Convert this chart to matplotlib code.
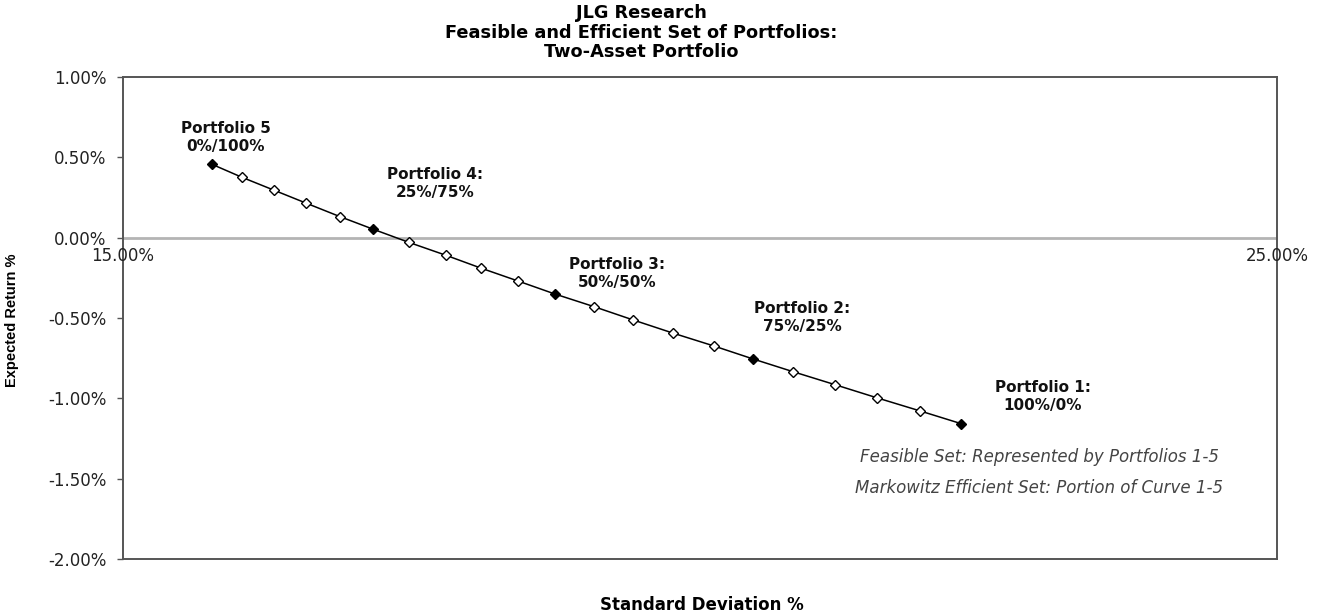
import matplotlib
matplotlib.use("Agg")
import matplotlib.pyplot as plt
from matplotlib.ticker import FuncFormatter

plt.rcParams['font.family'] = ['DejaVu Sans']
plt.rcParams['axes.unicode_minus'] = False

# ---- data ----
std_dev = [15.77, 16.03, 16.31, 16.59, 16.88, 17.17, 17.48, 17.80, 18.10, 18.42, 18.74,
           19.08, 19.42, 19.77, 20.12, 20.46, 20.81, 21.17, 21.53, 21.91, 22.26]
exp_ret = [0.457, 0.376, 0.295, 0.214, 0.131, 0.052, -0.030, -0.110, -0.189, -0.269, -0.350,
           -0.429, -0.512, -0.595, -0.674, -0.755, -0.835, -0.915, -0.996, -1.079, -1.157]
key_idx = [0, 5, 10, 15, 20]
key_names = ["Portfolio 5", "Portfolio 4:", "Portfolio 3:", "Portfolio 2:", "Portfolio 1:"]
key_alloc = ["0%/100%", "25%/75%", "50%/50%", "75%/25%", "100%/0%"]
y_ticks = [1.0, 0.5, 0.0, -0.5, -1.0, -1.5, -2.0]
x_ticks = [15.0, 25.0]
title_lines = ["JLG Research", "Feasible and Efficient Set of Portfolios:", "Two-Asset Portfolio"]
notes = ["Feasible Set: Represented by Portfolios 1-5",
         "Markowitz Efficient Set: Portion of Curve 1-5"]

W, H = 1327, 616
fig = plt.figure(figsize=(W / 100, H / 100), dpi=100)
ax = fig.add_axes([123 / W, (H - 559) / H, (1277 - 123) / W, (559 - 77) / H])

ax.set_xlim(x_ticks[0], x_ticks[-1])
ax.set_ylim(min(y_ticks), max(y_ticks))

# zero line (category axis)
ax.axhline(0, color='#b4b4b4', lw=2.0, zorder=1)

# curve
ax.plot(std_dev, exp_ret, color='black', lw=1.1, zorder=2)
other = [i for i in range(len(std_dev)) if i not in key_idx]
ax.plot([std_dev[i] for i in other], [exp_ret[i] for i in other], linestyle='none',
        marker='D', markersize=5.3, markerfacecolor='white', markeredgecolor='black',
        markeredgewidth=1.0, zorder=3)
ax.plot([std_dev[i] for i in key_idx], [exp_ret[i] for i in key_idx], linestyle='none',
        marker='D', markersize=5.3, markerfacecolor='black', markeredgecolor='black',
        zorder=4)

# portfolio labels (offsets in points)
offsets = [(10, 19.5), (44.5, 33), (45, 15), (35.5, 30), (59, 19.5)]
for k, idx in enumerate(key_idx):
    ax.annotate(key_names[k] + "\n" + key_alloc[k], xy=(std_dev[idx], exp_ret[idx]),
                xytext=offsets[k], textcoords='offset points', ha='center', va='center',
                fontsize=11, fontweight='bold', linespacing=1.25, color='#111111')

# notes
for j, t in enumerate(notes):
    fig.text(1039 / W, 1 - (457 + 31 * j) / H, t, ha='center', va='center',
             fontsize=12, style='italic', color='#444444')

# y axis
ax.set_yticks(y_ticks)
ax.yaxis.set_major_formatter(FuncFormatter(lambda v, p: f"{v:.2f}%"))
ax.tick_params(axis='y', direction='out', length=4, width=1, color='#555555',
               pad=8, labelsize=12, labelcolor='#222222')
ax.tick_params(axis='x', bottom=False, labelbottom=False)

# x tick labels sit on the zero line
for xt in x_ticks:
    ax.annotate(f"{xt:.2f}%", xy=(xt, 0), xytext=(0, -13), textcoords='offset points',
                ha='center', va='center', fontsize=12, color='#222222', zorder=5)

for s in ax.spines.values():
    s.set_color('#555555')
    s.set_linewidth(1.4)

ax.set_ylabel("Expected Return %", fontsize=10.5, fontweight='bold',
              family=['Liberation Sans', 'DejaVu Sans'])
ax.yaxis.set_label_coords(-(123 - 19) / (1277 - 123), 1 - (320 - 77) / (559 - 77))
fig.text(702 / W, 1 - 605 / H, "Standard Deviation %", ha='center', va='center',
         fontsize=12, fontweight='bold')

for j, t in enumerate(title_lines):
    fig.text(641 / W, 1 - (13 + 19.5 * j) / H, t, ha='center', va='center',
             fontsize=12.8, fontweight='bold')

fig.savefig("out.png", dpi=100, facecolor='white')
